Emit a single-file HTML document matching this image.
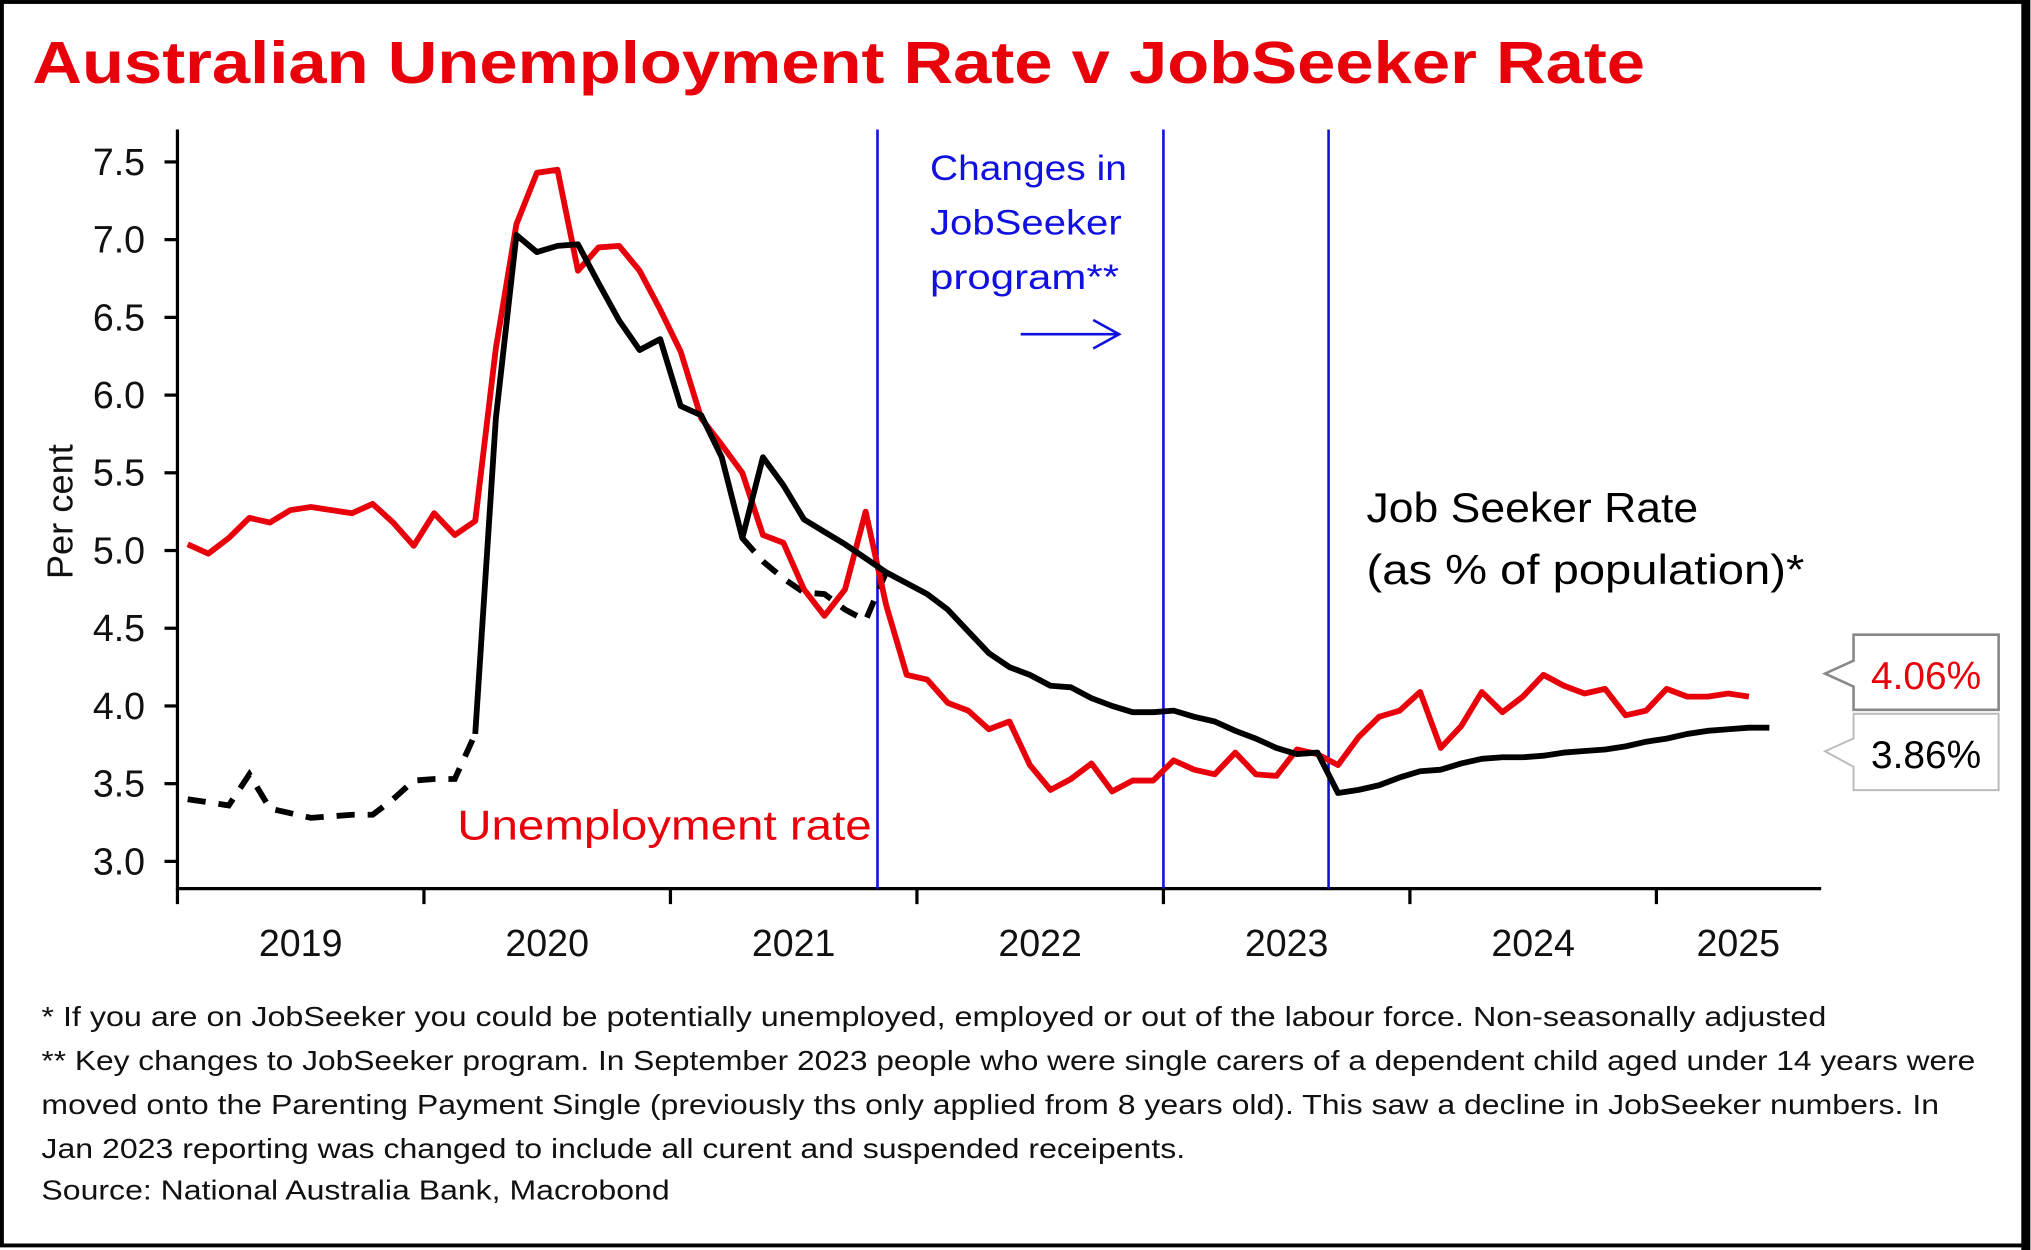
<!DOCTYPE html>
<html><head><meta charset="utf-8"><style>
html,body{margin:0;padding:0;background:#fff;}
svg{display:block;}
text{font-family:"Liberation Sans",sans-serif;}
</style></head><body>
<svg id="chart" width="2031" height="1250" viewBox="0 0 1568 965" xmlns="http://www.w3.org/2000/svg">
<rect x="1.5" y="1.5" width="1563" height="960" fill="#fff" stroke="#000" stroke-width="3"/>
<line x1="1564" y1="0" x2="1564" y2="965" stroke="#000" stroke-width="7"/>
<text x="25" y="64" font-size="46" font-weight="bold" fill="#e8000b" textLength="1245" lengthAdjust="spacingAndGlyphs">Australian Unemployment Rate v JobSeeker Rate</text>
<g id="axes"></g>
<g id="marks"></g>
<text x="718" y="139" font-size="27" fill="#1010e0" textLength="152" lengthAdjust="spacingAndGlyphs">Changes in</text>
<text x="718" y="181" font-size="27" fill="#1010e0" textLength="148" lengthAdjust="spacingAndGlyphs">JobSeeker</text>
<text x="718" y="223" font-size="27" fill="#1010e0" textLength="146" lengthAdjust="spacingAndGlyphs">program**</text>
<g stroke="#1010e0" stroke-width="2" fill="none"><line x1="788" y1="258" x2="864" y2="258"/><polyline points="844,247 864,258 844,269"/></g>
<text x="1055" y="403" font-size="32" fill="#000" textLength="256" lengthAdjust="spacingAndGlyphs">Job Seeker Rate</text>
<text x="1055" y="451" font-size="32" fill="#000" textLength="338" lengthAdjust="spacingAndGlyphs">(as % of population)*</text>
<text x="353" y="648" font-size="32" fill="#e8000b" textLength="320" lengthAdjust="spacingAndGlyphs">Unemployment rate</text>
<g><path d="M1431,490 H1543 V548 H1431 V530 L1409,520 L1431,510 Z" fill="#fff" stroke="#888" stroke-width="2"/><text x="1487" y="532" font-size="30" fill="#e8000b" text-anchor="middle">4.06%</text></g>
<g><path d="M1431,551 H1543 V610 H1431 V592 L1409,580 L1431,570 Z" fill="#fff" stroke="#bbb" stroke-width="1.5"/><text x="1487" y="593" font-size="30" fill="#000" text-anchor="middle">3.86%</text></g>
<g font-size="21.5" fill="#111">
<text x="32" y="792" textLength="1378" lengthAdjust="spacingAndGlyphs">* If you are on JobSeeker you could be potentially unemployed, employed or out of the labour force. Non-seasonally adjusted</text>
<text x="32" y="826" textLength="1493" lengthAdjust="spacingAndGlyphs">** Key changes to JobSeeker program. In September 2023 people who were single carers of a dependent child aged under 14 years were</text>
<text x="32" y="860" textLength="1465" lengthAdjust="spacingAndGlyphs">moved onto the Parenting Payment Single (previously ths only applied from 8 years old). This saw a decline in JobSeeker numbers. In</text>
<text x="32" y="894" textLength="883" lengthAdjust="spacingAndGlyphs">Jan 2023 reporting was changed to include all curent and suspended receipents.</text>
<text x="32" y="926" textLength="485" lengthAdjust="spacingAndGlyphs">Source: National Australia Bank, Macrobond</text>
</g>
</svg>
<script>
const yTicks = [3.0,3.5,4.0,4.5,5.0,5.5,6.0,6.5,7.0,7.5];
const yearLabels = ["2019","2020","2021","2022","2023","2024","2025"];
const unemployment = [5.04,4.98,5.08,5.21,5.18,5.26,5.28,5.26,5.24,5.30,5.18,5.03,
5.24,5.10,5.19,6.30,7.10,7.43,7.45,6.80,6.95,6.96,6.80,6.55,
6.28,5.85,5.68,5.50,5.10,5.05,4.75,4.58,4.75,5.25,4.65,4.20,
4.17,4.02,3.97,3.85,3.90,3.62,3.46,3.53,3.63,3.45,3.52,3.52,
3.65,3.59,3.56,3.70,3.56,3.55,3.72,3.69,3.62,3.80,3.93,3.97,
4.09,3.73,3.87,4.09,3.96,4.06,4.20,4.13,4.08,4.11,3.94,3.97,
4.11,4.06,4.06,4.08,4.06];
const jobseekerOld = [3.40,3.38,3.36,3.56,3.34,3.31,3.28,3.29,3.30,3.30,3.40,3.52,3.53,3.53,3.82];
const jobseeker = [3.82,5.85,7.03,6.92,6.96,6.97,6.72,6.48,6.29,6.36,
5.93,5.87,5.60,5.08,5.60,5.42,5.20,5.12,5.04,4.95,4.86,4.79,
4.72,4.62,4.48,4.34,4.25,4.20,4.13,4.12,4.05,4.00,3.96,3.96,
3.97,3.93,3.90,3.84,3.79,3.73,3.69,3.70,3.44,3.46,3.49,3.54,
3.58,3.59,3.63,3.66,3.67,3.67,3.68,3.70,3.71,3.72,3.74,3.77,
3.79,3.82,3.84,3.85,3.86,3.86];
const jobseekerAlt = [5.08,4.93,4.82,4.73,4.72,4.62,4.55,4.86];
const changeDates = [2021.84,2023.0,2023.67];
const jobseekerStart = 14, altStart = 27;

const NS="http://www.w3.org/2000/svg";
const X0=137, YW=190.3;
const xT = t => X0 + (t-2019)*YW;
const xM = i => xT(2019 + (i+0.5)/12);
const yV = v => 665 - (v-3)*120;
function mk(tag, attrs, parent){const e=document.createElementNS(NS,tag);for(const k in attrs)e.setAttribute(k,attrs[k]);parent.appendChild(e);return e;}
const axes=document.getElementById('axes'), marks=document.getElementById('marks');

let e=mk('line',{x1:X0,y1:100,x2:X0,y2:687,stroke:'#000','stroke-width':2.5},axes);


e=mk('line',{x1:X0-1,y1:686,x2:1406,y2:686,stroke:'#000','stroke-width':2.5},axes);


yTicks.forEach(v=>{
  mk('line',{x1:X0-10,y1:yV(v),x2:X0,y2:yV(v),stroke:'#000','stroke-width':2.5},axes);
  const t=mk('text',{x:112,y:yV(v)+10,'font-size':29,'text-anchor':'end',fill:'#111'},axes);
  
  
  t.textContent=v.toFixed(1);
});
for(let k=0;k<=6;k++){
  mk('line',{x1:xT(2019+k),y1:686,x2:xT(2019+k),y2:698,stroke:'#000','stroke-width':2.5},axes);
}
yearLabels.forEach((lab,k)=>{
  const cx = k<6 ? xT(2019+k+0.5) : 1342;
  const t=mk('text',{x:cx,y:738,'font-size':29,'text-anchor':'middle',fill:'#111'},axes);
  
  
  t.textContent=lab;
});
e=mk('text',{x:0,y:0,'font-size':28,'text-anchor':'middle',fill:'#111',transform:'translate(56,395) rotate(-90)'},axes);


e.textContent='Per cent';

changeDates.forEach(d=>{
  const l=mk('line',{x1:xT(d),y1:100,x2:xT(d),y2:686,stroke:'#1010e0','stroke-width':2},marks);
  
  
});
function pts(arr,start){return arr.map((v,i)=>xM(i+start).toFixed(1)+','+yV(v).toFixed(1)).join(' ');}
e=mk('polyline',{points:pts(jobseekerOld,0),fill:'none',stroke:'#000','stroke-width':4.5,'stroke-dasharray':'14,10'},marks);


e=mk('polyline',{points:pts(jobseekerAlt,altStart),fill:'none',stroke:'#000','stroke-width':4.5,'stroke-dasharray':'14,10'},marks);


e=mk('polyline',{points:pts(unemployment,0),fill:'none',stroke:'#e8000b','stroke-width':4.5,'stroke-linejoin':'round'},marks);


e=mk('polyline',{points:pts(jobseeker,jobseekerStart),fill:'none',stroke:'#000','stroke-width':4.5,'stroke-linejoin':'round'},marks);


</script>
</body></html>
